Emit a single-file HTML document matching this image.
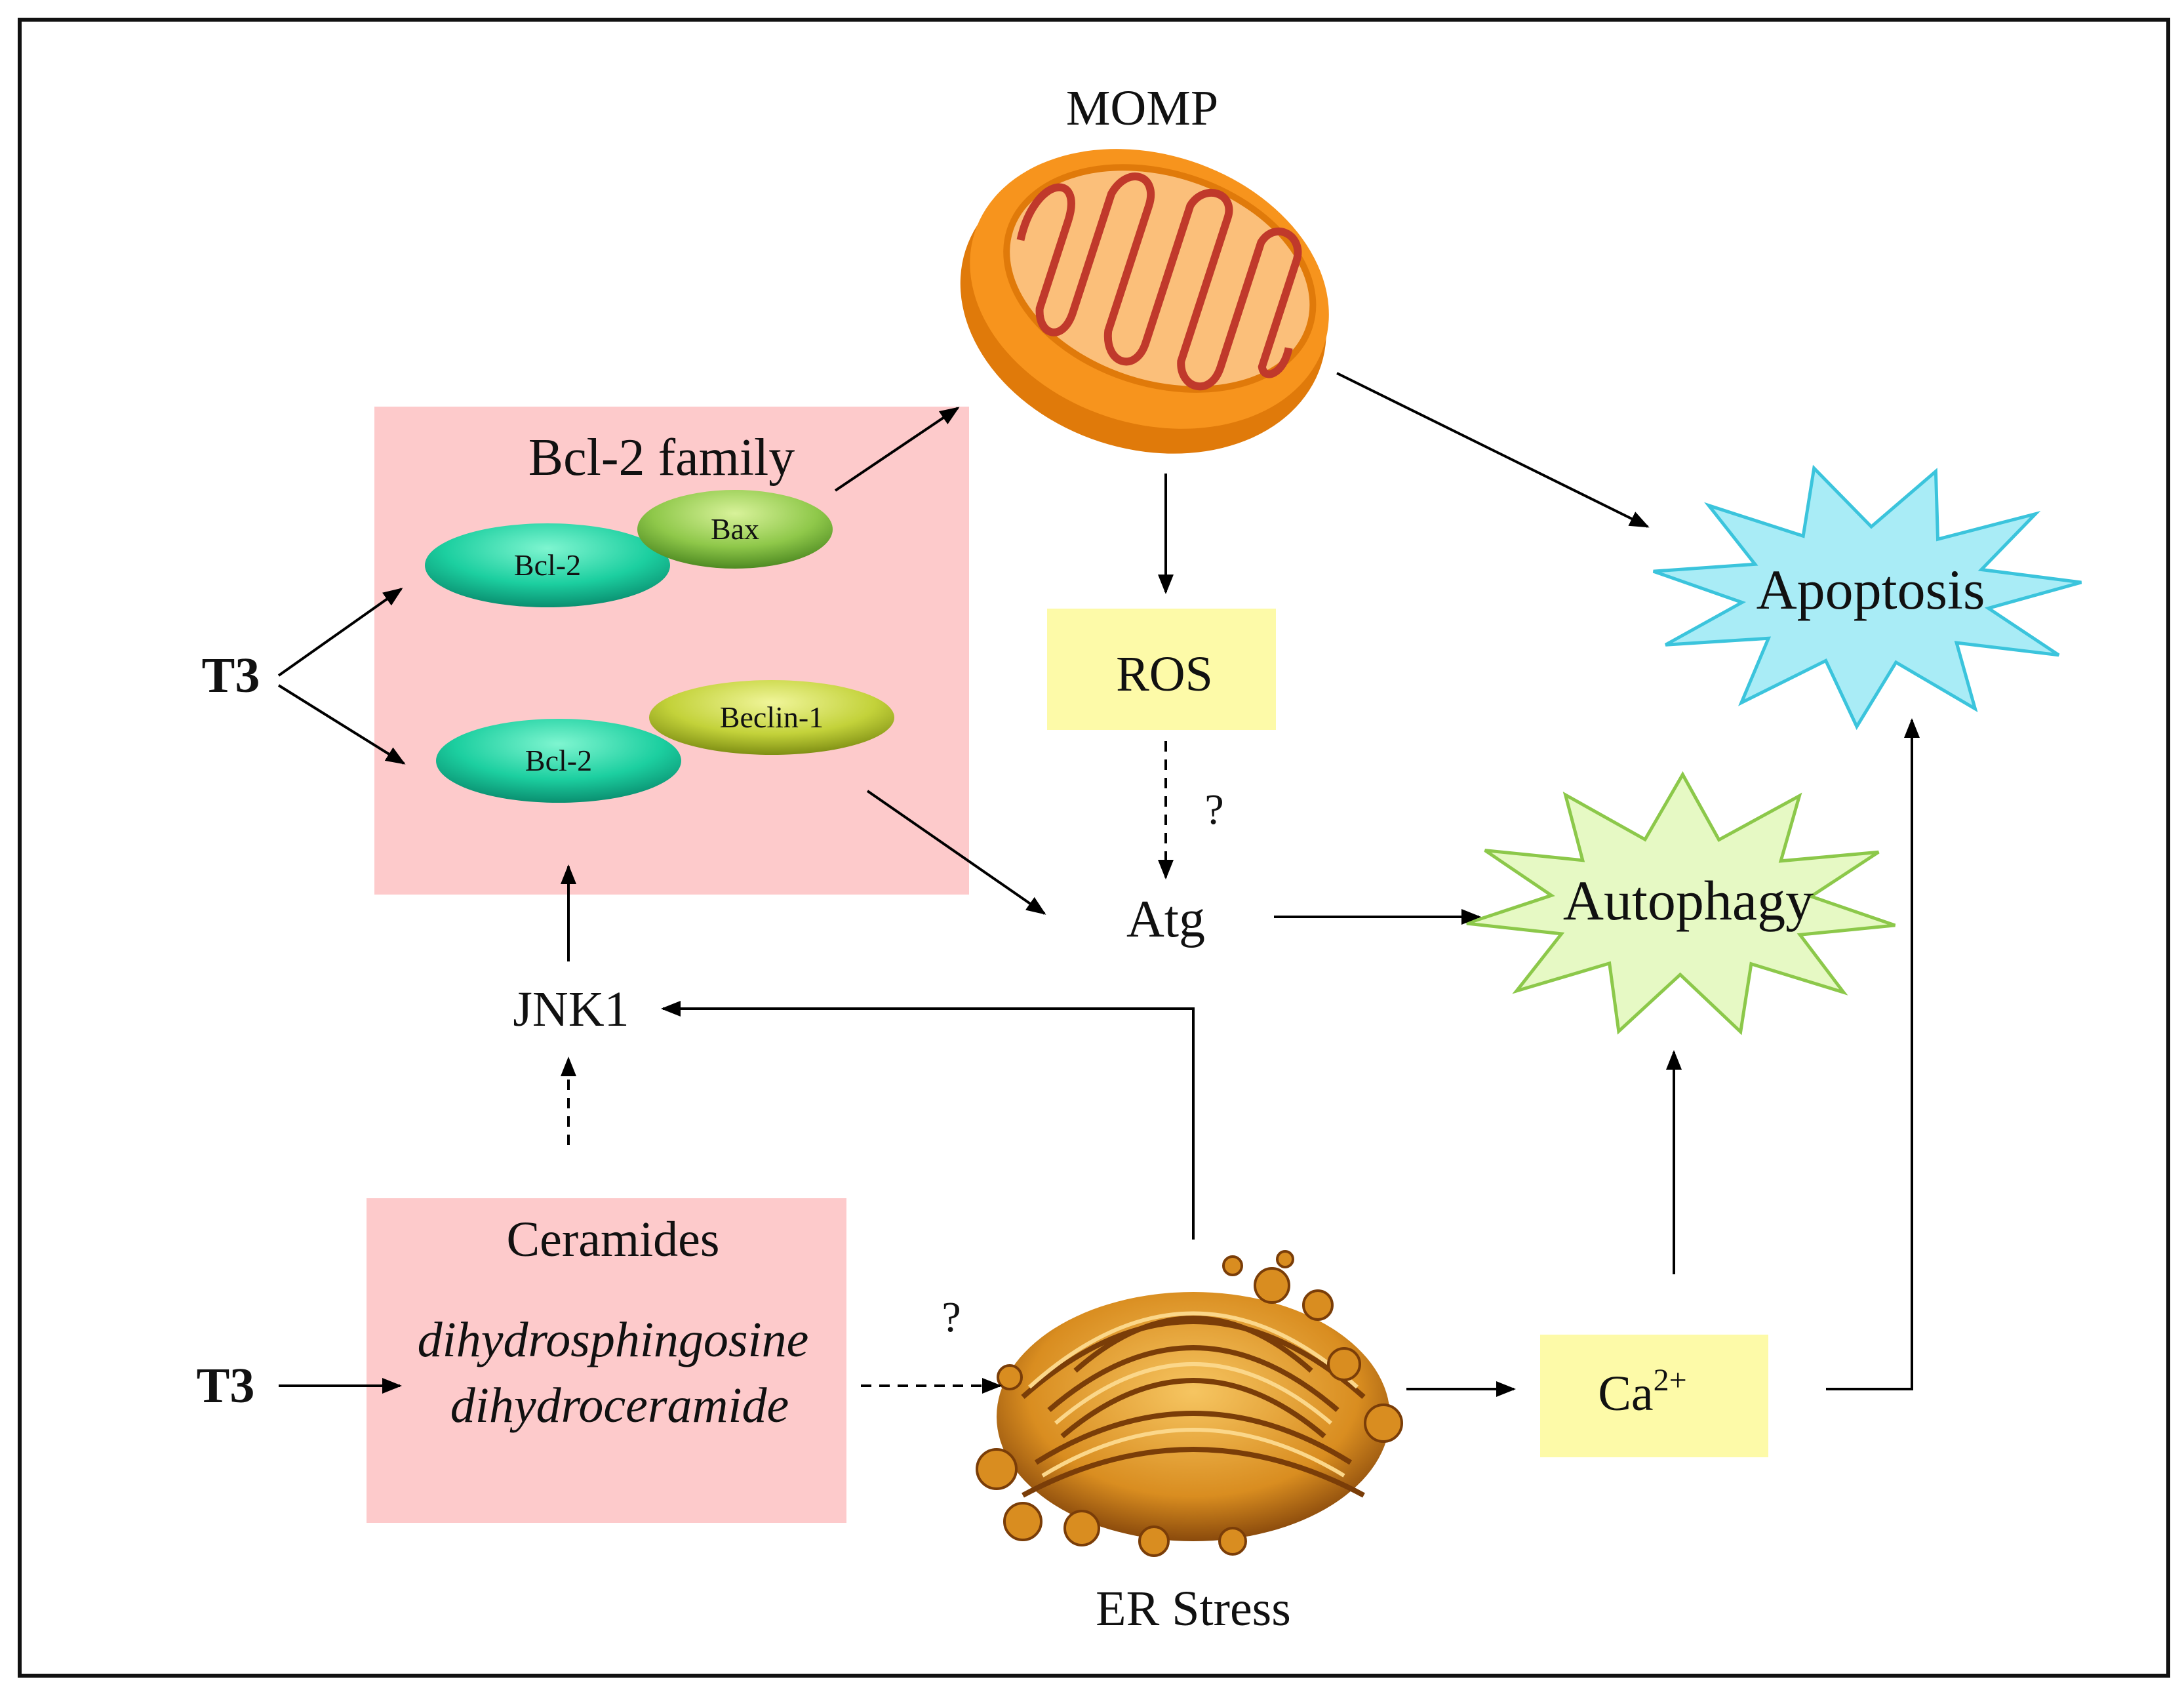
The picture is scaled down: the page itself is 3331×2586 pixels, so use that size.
<!DOCTYPE html>
<html><head><meta charset="utf-8">
<style>
html,body{margin:0;padding:0;background:#fff;}
svg{display:block;}
text{font-family:"Liberation Serif",serif;fill:#111;}
</style></head>
<body>
<svg id="s" width="3331" height="2586" viewBox="0 0 3331 2586" xmlns="http://www.w3.org/2000/svg">
<defs>
<marker id="ah" markerWidth="10" markerHeight="10" refX="9" refY="5" orient="auto" markerUnits="userSpaceOnUse" viewBox="0 0 10 10">
</marker>
<marker id="a" viewBox="0 0 10 10" refX="9" refY="5" markerWidth="30" markerHeight="30" markerUnits="userSpaceOnUse" orient="auto"><path d="M0,1 L10,5 L0,9 z" fill="#000"/></marker>
<radialGradient id="gT" cx="50%" cy="30%" r="70%"><stop offset="0" stop-color="#7ff5d0"/><stop offset="0.6" stop-color="#1ccfa0"/><stop offset="1" stop-color="#0a8f70"/></radialGradient>
<radialGradient id="gG" cx="50%" cy="30%" r="70%"><stop offset="0" stop-color="#d8f29a"/><stop offset="0.6" stop-color="#8fc84a"/><stop offset="1" stop-color="#4e8a22"/></radialGradient>
<radialGradient id="gY" cx="50%" cy="30%" r="70%"><stop offset="0" stop-color="#f0f59a"/><stop offset="0.6" stop-color="#c3d23a"/><stop offset="1" stop-color="#7f8f14"/></radialGradient>
<radialGradient id="gGo" cx="50%" cy="40%" r="60%"><stop offset="0" stop-color="#f6c561"/><stop offset="0.7" stop-color="#d98d20"/><stop offset="1" stop-color="#8a4a0c"/></radialGradient>
</defs>
<rect x="30" y="30" width="3277" height="2525" fill="#fff" stroke="#111" stroke-width="6"/>

<!-- pink boxes -->
<rect x="571" y="620" width="907" height="744" fill="#fdcacb"/>
<rect x="559" y="1827" width="732" height="495" fill="#fdcacb"/>
<!-- yellow boxes -->
<rect x="1597" y="928" width="349" height="185" fill="#fdfaa8"/>
<rect x="2349" y="2035" width="348" height="187" fill="#fdfaa8"/>

<!-- mitochondrion -->
<g transform="rotate(18 1750 450)">
<ellipse cx="1750" cy="470" rx="285" ry="215" fill="#e07a0a"/>
<ellipse cx="1750" cy="440" rx="280" ry="205" fill="#f7941d"/>
<ellipse cx="1760" cy="420" rx="240" ry="160" fill="#fbbf7a" stroke="#e07a0a" stroke-width="10"/>
<path d="M1540,430 C1530,330 1600,300 1600,380 L1600,520 C1610,560 1650,560 1650,510 L1650,320 C1660,270 1710,270 1710,320 L1710,520 C1720,570 1770,570 1770,520 L1770,300 C1780,260 1830,260 1830,300 L1830,530 C1840,570 1890,570 1890,520 L1890,320 C1900,280 1950,290 1950,330 L1950,500 C1960,520 1985,500 1980,460" fill="none" stroke="#c0392b" stroke-width="12"/>
</g>

<!-- golgi / ER -->
<g>
<ellipse cx="1820" cy="2160" rx="300" ry="190" fill="url(#gGo)"/>
<g fill="none" stroke="#7a3d08" stroke-width="8">
<path d="M1560,2130 Q1820,1900 2080,2130"/>
<path d="M1600,2150 Q1820,1960 2040,2150"/>
<path d="M1620,2190 Q1820,2020 2020,2190"/>
<path d="M1580,2230 Q1820,2080 2060,2230"/>
<path d="M1560,2280 Q1820,2140 2080,2280"/>
<path d="M1640,2090 Q1820,1930 2000,2090"/>
</g>
<g fill="none" stroke="#fbd78a" stroke-width="6">
<path d="M1570,2115 Q1820,1890 2070,2115"/>
<path d="M1610,2170 Q1820,1990 2030,2170"/>
<path d="M1590,2250 Q1820,2110 2050,2250"/>
</g>
<g fill="#d98d20" stroke="#7a3d08" stroke-width="4">
<circle cx="1520" cy="2240" r="30"/><circle cx="1560" cy="2320" r="28"/><circle cx="1650" cy="2330" r="26"/>
<circle cx="1940" cy="1960" r="26"/><circle cx="2010" cy="1990" r="22"/><circle cx="2110" cy="2170" r="28"/>
<circle cx="1880" cy="1930" r="14"/><circle cx="1960" cy="1920" r="12"/><circle cx="2050" cy="2080" r="24"/>
<circle cx="1540" cy="2100" r="18"/><circle cx="1760" cy="2350" r="22"/><circle cx="1880" cy="2350" r="20"/>
</g>
</g>

<!-- stars -->
<polygon id="apo" fill="#a9ecf6" stroke="#3bc4dc" stroke-width="5"/>
<polygon id="aut" fill="#e6f9c4" stroke="#8cc84a" stroke-width="5"/>

<!-- ellipses -->
<ellipse cx="835" cy="862" rx="187" ry="64" fill="url(#gT)"/>
<ellipse cx="1121" cy="807" rx="149" ry="60" fill="url(#gG)"/>
<ellipse cx="852" cy="1160" rx="187" ry="64" fill="url(#gT)"/>
<ellipse cx="1177" cy="1094" rx="187" ry="57" fill="url(#gY)"/>
<text x="835" y="877" font-size="46" text-anchor="middle">Bcl-2</text>
<text x="1121" y="822" font-size="46" text-anchor="middle">Bax</text>
<text x="852" y="1175" font-size="46" text-anchor="middle">Bcl-2</text>
<text x="1177" y="1109" font-size="46" text-anchor="middle">Beclin-1</text>

<!-- arrows -->
<g stroke="#000" stroke-width="4" fill="none" marker-end="url(#a)">
<line x1="1274" y1="748" x2="1461" y2="622"/>
<line x1="2039" y1="569" x2="2513" y2="803"/>
<line x1="1778" y1="722" x2="1778" y2="903"/>
<line x1="1778" y1="1130" x2="1778" y2="1338" stroke-dasharray="16,12"/>
<line x1="1323" y1="1206" x2="1593" y2="1393"/>
<line x1="1943" y1="1398" x2="2256" y2="1398"/>
<line x1="425" y1="1030" x2="612" y2="898"/>
<line x1="425" y1="1045" x2="616" y2="1164"/>
<line x1="867" y1="1466" x2="867" y2="1321"/>
<line x1="867" y1="1746" x2="867" y2="1614" stroke-dasharray="16,12"/>
<polyline points="1820,1890 1820,1538 1011,1538"/>
<line x1="425" y1="2113" x2="610" y2="2113"/>
<line x1="1313" y1="2113" x2="1525" y2="2113" stroke-dasharray="16,12"/>
<line x1="2145" y1="2118" x2="2309" y2="2118"/>
<line x1="2553" y1="1943" x2="2553" y2="1604"/>
<polyline points="2785,2118 2916,2118 2916,1098"/>
</g>

<!-- labels -->
<text x="1742" y="190" font-size="76" text-anchor="middle">MOMP</text>
<text x="1009" y="724" font-size="80" text-anchor="middle">Bcl-2 family</text>
<text x="352" y="1055" font-size="76" font-weight="bold" text-anchor="middle">T3</text>
<text x="344" y="2138" font-size="76" font-weight="bold" text-anchor="middle">T3</text>
<text x="1776" y="1053" font-size="76" text-anchor="middle">ROS</text>
<text x="1852" y="1256" font-size="66" text-anchor="middle">?</text>
<text x="1778" y="1428" font-size="80" text-anchor="middle">Atg</text>
<text x="871" y="1564" font-size="76" text-anchor="middle">JNK1</text>
<text x="935" y="1915" font-size="76" text-anchor="middle">Ceramides</text>
<text x="935" y="2068" font-size="76" font-style="italic" text-anchor="middle">dihydrosphingosine</text>
<text x="945" y="2168" font-size="76" font-style="italic" text-anchor="middle">dihydroceramide</text>
<text x="1451" y="2030" font-size="66" text-anchor="middle">?</text>
<text x="1820" y="2478" font-size="76" text-anchor="middle">ER Stress</text>
<text x="2505" y="2150" font-size="76" text-anchor="middle">Ca<tspan font-size="48" dy="-30">2+</tspan></text>
<text x="2853" y="928" font-size="86" text-anchor="middle">Apoptosis</text>
<text x="2575" y="1402" font-size="86" text-anchor="middle">Autophagy</text>
</svg>
<script>
function star(id,cx,cy,R,r,ry,Ry,n,rot){
 var p=[];for(var i=0;i<2*n;i++){var a=rot+Math.PI*i/n;var big=i%2==0;
 var rx=big?R:r, yy=big?Ry:ry; p.push((cx+rx*Math.cos(a)).toFixed(1)+","+(cy+yy*Math.sin(a)).toFixed(1));}
 document.getElementById(id).setAttribute("points",p.join(" "));
}
star("apo",2846,908,330,190,105,200,11,-0.1);
star("aut",2564,1381,330,200,105,200,11,0.15);
</script>
</body></html>
